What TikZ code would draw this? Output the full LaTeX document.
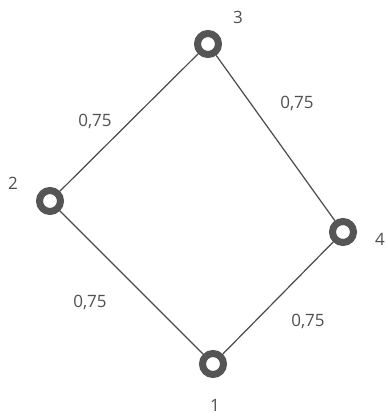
\documentclass[tikz,border=0pt]{standalone}
\usepackage{fontspec}
\setmainfont{Open Sans}
\definecolor{ringc}{HTML}{555555}
\definecolor{edgec}{HTML}{4A4A4A}
\definecolor{txtc}{HTML}{505050}
\begin{document}
\begin{tikzpicture}[x=1pt,y=-1pt,
  ring/.style={circle,draw=ringc,line width=7pt,minimum size=21pt,inner sep=0pt},
  edge/.style={draw=edgec,line width=1.2pt},
  lbl/.style={text=txtc,font=\fontsize{17}{19}\selectfont,inner sep=0pt}]
\useasboundingbox (0,0) rectangle (388,418);
\node[ring] (n3) at (208,44) {};
\node[ring] (n2) at (50,201) {};
\node[ring] (n4) at (343,232) {};
\node[ring] (n1) at (213,364) {};
\draw[edge] (n2) -- (n3);
\draw[edge] (n3) -- (n4);
\draw[edge] (n2) -- (n1);
\draw[edge] (n1) -- (n4);
\node[lbl] (t3) at (238,17) {3};
\node[lbl] (t2) at (13,183) {2};
\node[lbl] (t4) at (380,239) {4};
\node[lbl] (t1) at (215,405) {1};
\node[lbl] (e23) at (95,121) {0,75};
\node[lbl] (e34) at (297,103) {0,75};
\node[lbl] (e21) at (90,302) {0,75};
\node[lbl] (e14) at (308,321) {0,75};
\end{tikzpicture}
\end{document}
